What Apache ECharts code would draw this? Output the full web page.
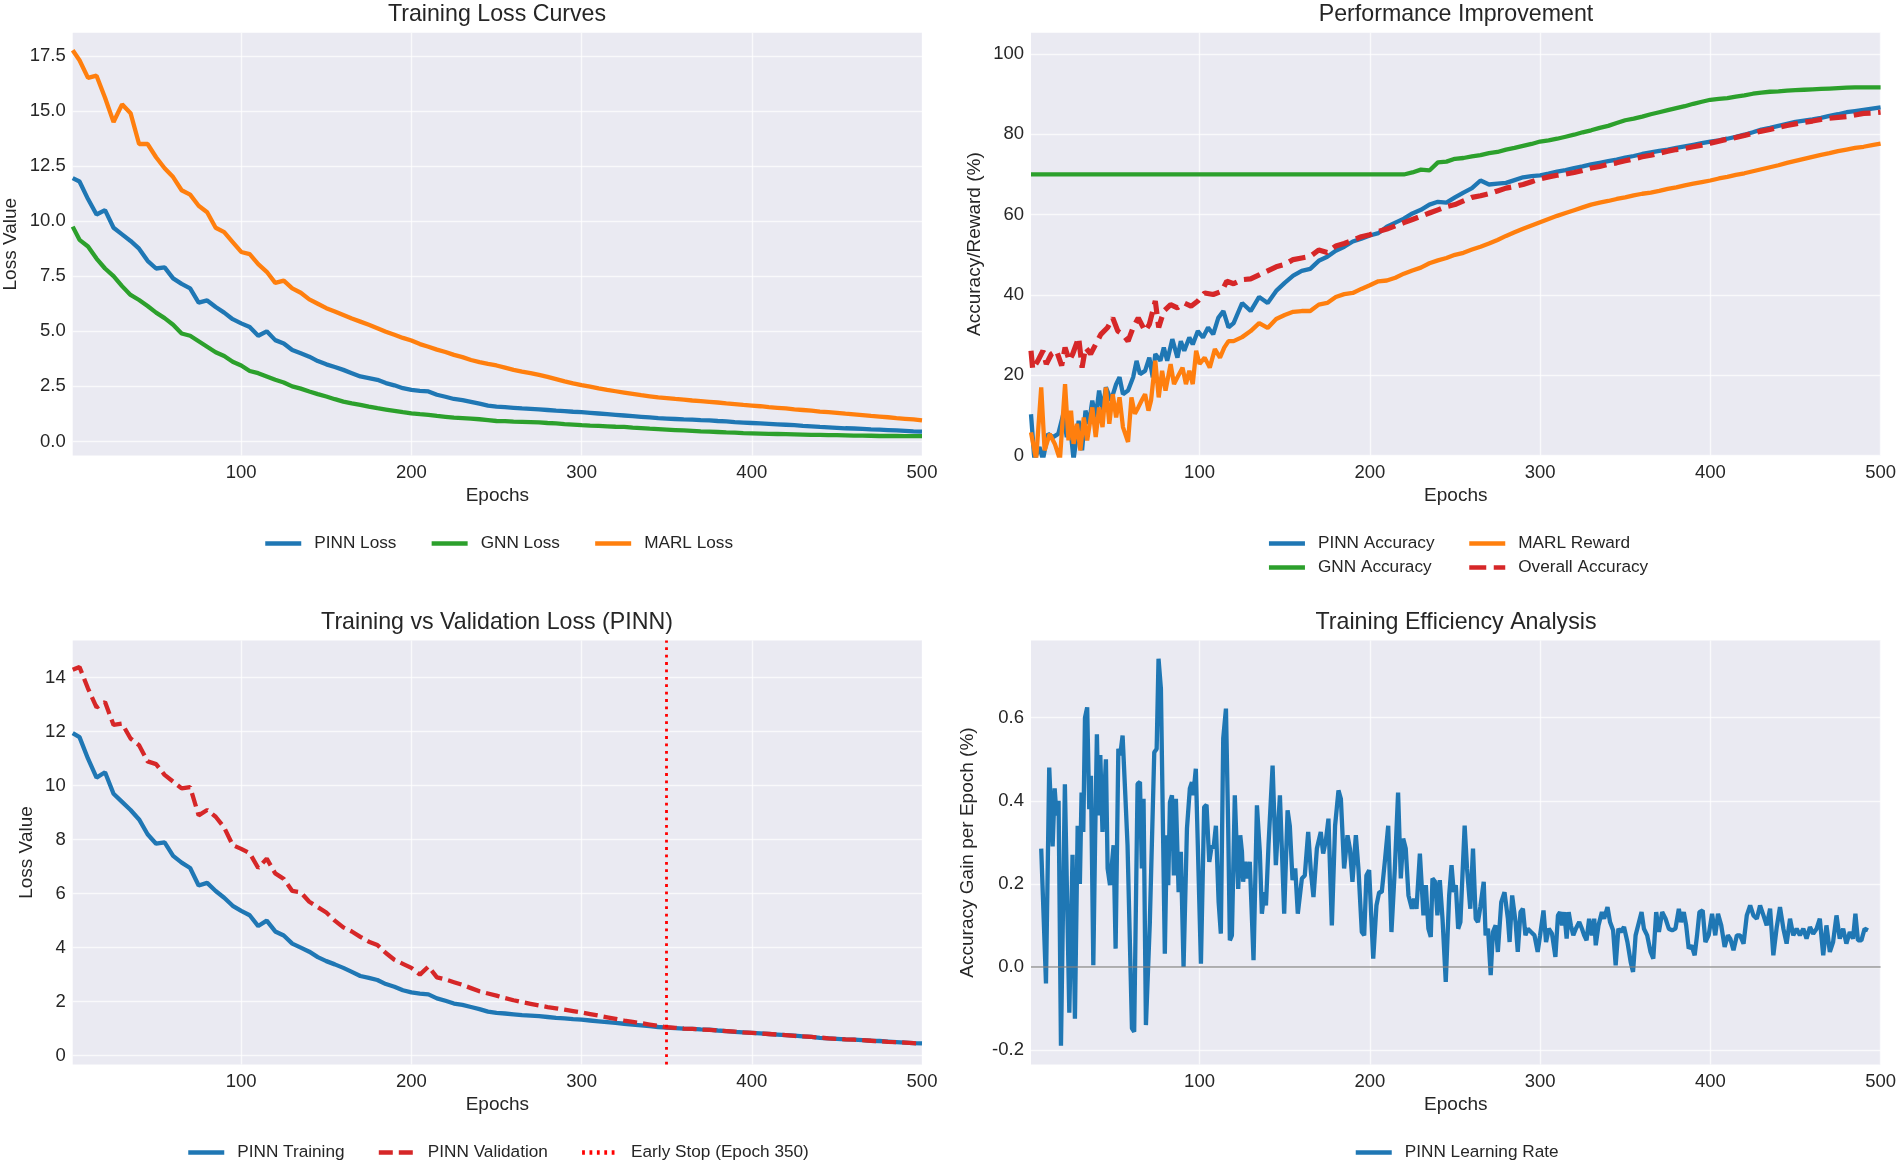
<!DOCTYPE html>
<html lang="en">
<head>
<meta charset="utf-8">
<title>Training curves</title>
<script src="https://cdn.jsdelivr.net/npm/echarts@6.0.0/dist/echarts.min.js"></script>
<style>
  html, body { margin: 0; padding: 0; background: #fff; }
  #main { width: 1900px; height: 1163px; }
</style>
</head>
<body>
<div id="main"></div>
<script>
var epochs = [1,5,10,15,20,25,30,35,40,45,
  50,55,60,65,70,75,80,85,90,95,
  100,105,110,115,120,125,130,135,140,145,
  150,155,160,165,170,175,180,185,190,195,
  200,205,210,215,220,225,230,235,240,245,
  250,255,260,265,270,275,280,285,290,295,
  300,305,310,315,320,325,330,335,340,345,
  350,355,360,365,370,375,380,385,390,395,
  400,405,410,415,420,425,430,435,440,445,
  450,455,460,465,470,475,480,485,490,495,
  500];

// panel 1: training loss
var pinnLoss = [11.95,11.8,11.0,10.3,10.5,9.7,9.4,9.1,8.75,8.2,
  7.85,7.9,7.4,7.15,6.95,6.3,6.4,6.1,5.85,5.55,
  5.36,5.2,4.8,5.0,4.6,4.45,4.15,4.0,3.85,3.65,
  3.5,3.38,3.25,3.1,2.95,2.88,2.8,2.65,2.55,2.42,
  2.34,2.3,2.27,2.12,2.03,1.93,1.88,1.8,1.72,1.63,
  1.58,1.56,1.53,1.5,1.48,1.46,1.43,1.4,1.38,1.35,
  1.33,1.3,1.27,1.24,1.21,1.18,1.15,1.12,1.09,1.06,
  1.04,1.02,1.0,0.99,0.97,0.96,0.93,0.91,0.88,0.86,
  0.84,0.82,0.8,0.78,0.76,0.74,0.71,0.69,0.66,0.64,
  0.62,0.6,0.59,0.57,0.55,0.54,0.52,0.5,0.48,0.46,
  0.45];
var gnnLoss = [9.75,9.15,8.85,8.3,7.85,7.5,7.05,6.65,6.42,6.15,
  5.85,5.6,5.3,4.9,4.8,4.55,4.3,4.05,3.88,3.62,
  3.45,3.2,3.1,2.95,2.8,2.68,2.5,2.4,2.27,2.15,
  2.04,1.92,1.81,1.73,1.66,1.58,1.51,1.45,1.39,1.33,
  1.28,1.24,1.21,1.16,1.12,1.08,1.06,1.04,1.01,0.97,
  0.93,0.92,0.9,0.89,0.88,0.87,0.84,0.82,0.79,0.77,
  0.74,0.72,0.71,0.69,0.67,0.66,0.63,0.61,0.58,0.56,
  0.54,0.52,0.5,0.48,0.46,0.45,0.43,0.41,0.4,0.38,
  0.37,0.36,0.35,0.34,0.33,0.32,0.31,0.3,0.3,0.29,
  0.29,0.28,0.27,0.27,0.26,0.25,0.25,0.25,0.24,0.24,
  0.24];
var marlLoss = [17.75,17.3,16.5,16.6,15.6,14.5,15.3,14.9,13.5,13.5,
  12.9,12.4,12.0,11.4,11.2,10.7,10.4,9.7,9.5,9.05,
  8.6,8.5,8.05,7.7,7.2,7.3,6.95,6.75,6.45,6.25,
  6.05,5.9,5.74,5.58,5.44,5.3,5.14,4.98,4.84,4.7,
  4.58,4.42,4.3,4.17,4.06,3.93,3.83,3.7,3.6,3.52,
  3.45,3.35,3.25,3.17,3.1,3.02,2.93,2.83,2.73,2.64,
  2.56,2.49,2.41,2.34,2.28,2.22,2.16,2.1,2.05,2.0,
  1.97,1.93,1.9,1.86,1.83,1.8,1.77,1.73,1.7,1.66,
  1.63,1.6,1.56,1.53,1.5,1.46,1.43,1.4,1.36,1.33,
  1.3,1.26,1.23,1.2,1.16,1.13,1.1,1.06,1.03,1.0,
  0.96];

// panel 2: performance. early noisy stretch as [epoch, value], then every 5 from epoch 120
var pinnAccEarly = [[1,10.3],[3,-1],[6,2.1],[8,-1],[11,5.4],[14,4.6],[17,5.4],[20,10.4],[22,4.6],[23.5,9.5],
  [26,-1],[29,8.7],[31,1.3],[33,11.2],[35,7.9],[37,13.7],[39,9.5],[41,16.2],[43,11.2],[45,17],
  [48,13.7],[51,17.8],[53,19.5],[55,15.3],[58,16.2],[61,19.5],[63,23.6],[65,20.3],[68,21.1],[70.5,24.4],
  [72.5,19.5],[74,25.3],[77,23.6],[79,26.9],[81,23.6],[84,29],[87,24.4],[89,28.5],[91,26.1],[94,29.4],
  [96,27.7],[99,31],[102,29.4],[105,31.9],[108,30.2],[111,34.3],[114,36],[117,31.9]];
var marlRewardEarly = [[1,5.8],[4,-1],[7,17],[9,1.3],[12,5.4],[15,2.9],[18,-1],[21,17.8],[23,3.8],[24.5,11.2],
  [26,2.9],[28,7.9],[30,1.3],[32,9.5],[34,3.8],[37,12],[39,4.6],[41,12],[43,7.1],[45,17],
  [47,7.9],[49,15.3],[51,9.5],[53,14.5],[55,7.1],[58,3.4],[60,14.5],[62,10.4],[64,12],[66,13.7],
  [68,15.3],[70,11.2],[71.5,13.7],[74,23.6],[76,14.5],[78,21.1],[80,16.2],[83,22.8],[85,17.8],[87,19.5],
  [90,21.9],[92,17.8],[94,21.1],[96,17.8],[98,26.1],[100,22.8],[103,24.4],[106,21.9],[109,26.5],[112,24.4],
  [114.5,26.9],[117,28.5]];
var overallAccEarly = [[1,26.1],[2,21.5],[5,23.6],[8,26.1],[10,22.8],[13,25.3],[16,26.1],[19,22.4],[21,26.9],[23.5,23.6],
  [25.5,25.3],[29,29.4],[31,21.9],[33,26.9],[36,25.3],[39,27.7],[42,30.2],[46,31.9],[49,34.3],[52,31],
  [55,30.2],[58,28.5],[61,31.9],[64,34.3],[68,31],[70.5,32.7],[74,38.5],[76,31.9],[79,36],[83,37.6],
  [87,36.8],[91,38],[95,37.2],[99,38.5],[103,40.5],[108,40.1],[113,40.9],[116,43.4]];
var gnnAccEarly = [[1,70]];

var accEpochs = [120,125,130,135,140,145,
  150,155,160,165,170,175,180,185,190,195,
  200,205,210,215,220,225,230,235,240,245,
  250,255,260,265,270,275,280,285,290,295,
  300,305,310,315,320,325,330,335,340,345,
  350,355,360,365,370,375,380,385,390,395,
  400,405,410,415,420,425,430,435,440,445,
  450,455,460,465,470,475,480,485,490,495,
  500];
var pinnAcc = [33,38,36,39.5,38,41,
  43,44.8,46,46.5,48.5,49.5,51,52,53.3,54,
  54.8,55.4,57,58,59,60.3,61.2,62.5,63.2,63,
  64.3,65.5,66.6,68.5,67.5,67.7,67.9,68.6,69.3,69.6,
  69.8,70.2,70.7,71.1,71.6,72.0,72.5,72.9,73.3,73.7,
  74.2,74.6,75.1,75.5,75.9,76.2,76.6,77.0,77.4,77.8,
  78.2,78.5,78.9,79.4,79.9,80.5,81.2,81.6,82.1,82.6,
  83.1,83.4,83.7,84.1,84.6,85.0,85.5,85.8,86.1,86.4,
  86.7];
var gnnAcc = [70,70,70,70,70,70,
  70,70,70,70,70,70,70,70,70,70,
  70,70,70,70,70,70.5,71.2,71.0,73.0,73.2,
  73.9,74.1,74.5,74.8,75.3,75.6,76.2,76.6,77.1,77.6,
  78.2,78.5,78.9,79.4,79.9,80.5,81.0,81.6,82.1,82.8,
  83.5,83.9,84.4,85.0,85.5,86.0,86.5,87.0,87.6,88.1,
  88.6,88.8,89.0,89.4,89.7,90.1,90.4,90.6,90.7,90.9,
  91.0,91.1,91.2,91.3,91.4,91.5,91.6,91.7,91.7,91.7,
  91.7];
var marlReward = [28.5,29.5,31,33,31.8,34,
  35,35.8,36,36,37.6,38,39.5,40.2,40.5,41.5,
  42.4,43.4,43.6,44.3,45.3,46.1,46.8,47.9,48.6,49.2,
  50,50.5,51.3,52,52.8,53.7,54.7,55.6,56.5,57.3,
  58.1,58.9,59.7,60.4,61.1,61.8,62.5,63.0,63.4,63.9,
  64.3,64.8,65.2,65.5,65.9,66.4,66.8,67.3,67.7,68.1,
  68.5,69.0,69.4,69.9,70.3,70.8,71.3,71.8,72.3,72.9,
  73.4,73.9,74.4,74.9,75.3,75.8,76.2,76.6,76.9,77.3,
  77.7];
var overallAcc = [42.8,43.8,44,45,46,47,
  47.6,48.8,49.2,49.6,51.2,50.6,52.2,52.8,53.6,54.5,
  55,55.8,56.4,57.2,58,58.8,59.6,60.4,61.2,62,
  62.5,63.4,64.3,64.7,65.2,65.9,66.6,67.0,67.5,68.2,
  68.9,69.4,69.8,70.1,70.5,71.0,71.6,72.0,72.5,72.9,
  73.4,73.9,74.4,74.8,75.3,75.8,76.2,76.5,76.9,77.3,
  77.8,78.3,78.8,79.2,79.7,80.3,80.8,81.2,81.7,82.2,
  82.6,83.0,83.3,83.7,84.0,84.2,84.4,84.8,85.2,85.3,
  85.5];

// panel 3: training vs validation (training = pinnLoss)
var pinnVal = [14.3,14.4,13.6,12.9,13.1,12.25,12.3,11.75,11.5,10.9,
  10.8,10.4,10.15,9.9,9.95,8.9,9.1,8.85,8.45,7.8,
  7.66,7.5,6.95,7.3,6.75,6.55,6.1,6.05,5.7,5.5,
  5.3,5.0,4.75,4.6,4.4,4.22,4.1,3.8,3.55,3.4,
  3.25,3.0,3.3,2.9,2.82,2.72,2.62,2.5,2.38,2.3,
  2.22,2.13,2.05,1.98,1.92,1.86,1.8,1.75,1.7,1.65,
  1.6,1.54,1.48,1.42,1.36,1.3,1.25,1.2,1.15,1.1,
  1.05,1.03,1.0,0.99,0.97,0.95,0.93,0.91,0.89,0.86,
  0.84,0.82,0.8,0.78,0.76,0.73,0.71,0.69,0.67,0.64,
  0.62,0.6,0.59,0.57,0.55,0.53,0.51,0.5,0.48,0.46,
  0.44];
var earlyStopEpoch = 350;

// panel 4: accuracy gain per epoch, [epoch, value]
var lrPoints = [[7,0.285],[9.8,-0.04],[11.7,0.48],[13.7,0.29],[14.9,0.43],[16,0.365],[17.2,0.40],[18.6,-0.19],
  [20.9,0.44],[23.5,-0.11],[25.4,0.27],[26.8,-0.125],[28.4,0.34],[29.7,0.2],[30.7,0.42],[31.7,0.325],
  [32.7,0.6],[34,0.625],[35.2,0.38],[36.2,0.46],[37.6,0.004],[38.7,0.317],[39.7,0.56],[40.7,0.365],
  [41.7,0.51],[43,0.325],[45,0.5],[46,0.237],[47.4,0.197],[49.5,0.293],[50.7,0.044],[52.3,0.525],
  [53.4,0.51],[54.8,0.557],[56.4,0.413],[57.7,0.293],[60.3,-0.148],[61.6,-0.156],[63.6,0.441],[65,0.445],
  [66.1,0.237],[67.1,0.405],[68.5,-0.14],[70.8,0.108],[73.4,0.517],[74.8,0.525],[75.9,0.742],[77.3,0.67],
  [79.6,0.032],[80.8,0.317],[81.6,0.197],[82.6,0.397],[83.8,0.413],[84.9,0.22],[86.1,0.405],[87.7,0.18],
  [89,0.277],[90.6,0.0],[92.6,0.333],[94.3,0.43],[95.5,0.445],[96.3,0.413],[97.8,0.477],[100.8,0.008],
  [102.7,0.385],[104.1,0.39],[105.7,0.253],[107.2,0.293],[108.2,0.285],[109.6,0.34],[111.2,0.156],[112.5,0.08],
  [113.9,0.55],[115.5,0.622],[116.8,0.34],[117.8,0.064],[119,0.076],[120.7,0.413],[122.7,0.188],[123.9,0.317],
  [124.9,0.277],[125.6,0.205],[126.8,0.253],[128.2,0.213],[129.5,0.253],[131.7,0.016],[133.7,0.389],[135.4,0.277],
  [136.6,0.128],[138,0.18],[139,0.148],[140.5,0.293],[142.9,0.485],[144.8,0.245],[147.2,0.413],[149.7,0.128],
  [151.7,0.377],[153,0.34],[154.6,0.209],[156.2,0.237],[157.7,0.128],[160.1,0.213],[161.8,0.22],[163.8,0.325],
  [165.4,0.229],[166.9,0.168],[168.9,0.285],[171.2,0.325],[172.6,0.273],[174.2,0.305],[175.7,0.357],[177.7,0.1],
  [179.6,0.34],[181.6,0.425],[183,0.405],[184.9,0.237],[186.9,0.317],[188.3,0.285],[189.8,0.205],[191.8,0.317],
  [193.3,0.237],[195.3,0.084],[196.7,0.076],[198,0.22],[199.6,0.233],[202,0.02],[203.9,0.148],[205.5,0.18],
  [207,0.18],[208.8,0.253],[210.8,0.34],[212.7,0.084],[214.7,0.237],[216.6,0.42],[218.2,0.213],[219.6,0.309],
  [221.1,0.285],[222.7,0.172],[224.7,0.14],[226,0.164],[227.4,0.14],[229.4,0.273],[231.5,0.124],[232.9,0.197],
  [234.4,0.092],[235.8,0.072],[236.8,0.213],[238.4,0.205],[239.7,0.124],[241.1,0.209],[242.7,0.116],[244.6,-0.036],
  [246.6,0.172],[248,0.245],[249.3,0.18],[250.5,0.197],[251.9,0.092],[253.2,0.108],[255.7,0.34],[257.1,0.237],
  [259,0.14],[260.6,0.285],[262.2,0.116],[263.5,0.108],[264.9,0.144],[266.9,0.205],[268,0.076],[269.4,0.092],
  [271,-0.02],[272.3,0.084],[273.9,0.1],[275.2,0.036],[277.2,0.156],[279.1,0.18],[281.1,0.116],[282.1,0.06],
  [283.6,0.172],[285.6,0.108],[286.9,0.036],[288.5,0.132],[289.9,0.14],[291.4,0.076],[292.8,0.092],[294.7,0.084],
  [296.7,0.076],[298.6,0.036],[300,0.076],[302,0.136],[303.5,0.06],[305.1,0.092],[307,0.08],[309,0.024],
  [310.5,0.124],[311.7,0.132],[312.9,0.1],[314.2,0.132],[315.6,0.068],[316.8,0.132],[318.1,0.1],[319.5,0.076],
  [321,0.092],[323,0.108],[324.6,0.092],[325.9,0.076],[327.3,0.064],[328.8,0.116],[330.4,0.076],[331.8,0.116],
  [332.7,0.052],[334.3,0.1],[336.3,0.132],[337.6,0.116],[339.6,0.144],[341.1,0.108],[342.9,0.088],[344.4,0.004],
  [346,0.092],[347.4,0.084],[349.3,0.096],[351.3,0.06],[353.2,0.012],[354.6,-0.012],[356.1,0.076],[358.1,0.108],
  [359.6,0.132],[361,0.092],[362.9,0.076],[364.9,0.036],[366.5,0.02],[368.2,0.132],[369.8,0.084],[371.7,0.132],
  [373.7,0.116],[375.6,0.092],[377.6,0.088],[379.5,0.092],[381.5,0.14],[382.8,0.108],[384.4,0.132],[385.8,0.1],
  [387.3,0.044],[388.9,0.052],[390.8,0.028],[392.2,0.076],[393.6,0.132],[395.5,0.136],[397.1,0.06],[399,0.076],
  [401,0.128],[402.9,0.076],[404.5,0.128],[406.4,0.1],[408.4,0.048],[410.3,0.076],[411.7,0.068],[413.6,0.04],
  [415.6,0.076],[417.5,0.076],[419.5,0.056],[421.4,0.124],[423.4,0.148],[425.3,0.124],[427.3,0.116],[429.2,0.148],
  [431.2,0.124],[433.1,0.1],[435.1,0.14],[437,0.028],[439,0.096],[440.9,0.144],[442.9,0.092],[444.8,0.056],
  [446.8,0.116],[448.7,0.076],[450.7,0.092],[452.6,0.076],[454.6,0.092],[456.5,0.068],[458.5,0.096],[460.4,0.08],
  [462.4,0.092],[464.3,0.116],[466.3,0.028],[468.2,0.1],[470.2,0.036],[472.1,0.06],[474.1,0.124],[476,0.068],
  [478,0.092],[479.9,0.056],[481.9,0.084],[483.8,0.068],[485.2,0.128],[486.7,0.064],[488.7,0.064],[490.6,0.092],
  [492.6,0.088]];

// tick labels
var epochTicks = [100, 200, 300, 400, 500];
var lossTicks = [0, 2.5, 5, 7.5, 10, 12.5, 15, 17.5];
var accTicks = [0, 20, 40, 60, 80, 100];
var valTicks = [0, 2, 4, 6, 8, 10, 12, 14];
var gainTicks = [-0.2, 0, 0.2, 0.4, 0.6];

var BLUE = '#1f77b4', ORANGE = '#ff7f0e', GREEN = '#2ca02c', RED = '#d62728';
var TXT = '#262626';
var FONT = 'Liberation Sans, Arial, sans-serif';
var LW = 4.3;

function pairs(xs, ys) {
  return xs.map(function (x, i) { return [x, ys[i]]; });
}

function xAx(g) {
  return {
    type: 'value', gridIndex: g, min: 1, max: 500,
    name: 'Epochs', nameLocation: 'middle', nameGap: 31,
    nameTextStyle: { fontSize: 19, color: TXT, fontFamily: FONT },
    axisLine: { show: false },
    axisTick: { show: false, customValues: epochTicks },
    axisLabel: { customValues: epochTicks, fontSize: 18.5, color: TXT, fontFamily: FONT, margin: 8 },
    splitLine: { show: true, lineStyle: { color: 'rgba(255,255,255,0.7)', width: 1.4 } }
  };
}

function yAx(g, name, min, max, ticks, gap, fmt) {
  return {
    type: 'value', gridIndex: g, min: min, max: max,
    name: name, nameLocation: 'middle', nameGap: gap,
    nameTextStyle: { fontSize: 19, color: TXT, fontFamily: FONT },
    axisLine: { show: false },
    axisTick: { show: false, customValues: ticks },
    axisLabel: { customValues: ticks, fontSize: 18.5, color: TXT, fontFamily: FONT, margin: 7, formatter: fmt },
    splitLine: { show: true, lineStyle: { color: 'rgba(255,255,255,0.7)', width: 1.4 } }
  };
}

function line(name, g, data, color, extra) {
  var s = {
    name: name, type: 'line', xAxisIndex: g, yAxisIndex: g,
    data: data, color: color, symbol: 'none', showSymbol: false,
    lineStyle: { color: color, width: LW }, silent: true
  };
  for (var k in extra) s[k] = extra[k];
  return s;
}

function legend(names, left, top, gap, vertical) {
  return {
    data: names, left: left, top: top, padding: 0,
    orient: vertical ? 'vertical' : 'horizontal',
    itemWidth: 36, itemHeight: 14, itemGap: gap,
    selectedMode: false,
    itemStyle: { opacity: 0 },
    lineStyle: { width: 4.5 },
    textStyle: { fontSize: 17.2, color: TXT, fontFamily: FONT, padding: [0, 0, 0, 8] }
  };
}

var fix1 = function (v) { return v.toFixed(1); };
var fix0 = function (v) { return String(Math.round(v)); };

function gridAt(l, t, w, h) {
  return { show: true, backgroundColor: '#eaeaf2', borderWidth: 0, left: l, top: t, width: w, height: h };
}

var titleStyle = { fontSize: 23.2, fontWeight: 'normal', color: TXT, fontFamily: FONT };

var chart = echarts.init(document.getElementById('main'), null, { renderer: 'canvas' });

chart.setOption({
  backgroundColor: '#ffffff',
  animation: false,
  textStyle: { fontFamily: FONT },
  title: [
    { text: 'Training Loss Curves', left: 497, top: 3, padding: 0, textAlign: 'center', textStyle: titleStyle },
    { text: 'Performance Improvement', left: 1456, top: 3, padding: 0, textAlign: 'center', textStyle: titleStyle },
    { text: 'Training vs Validation Loss (PINN)', left: 497, top: 611, padding: 0, textAlign: 'center', textStyle: titleStyle },
    { text: 'Training Efficiency Analysis', left: 1456, top: 611, padding: 0, textAlign: 'center', textStyle: titleStyle }
  ],
  grid: [
    gridAt(72.7, 32.7, 849.3, 422.9),
    gridAt(1031, 32.7, 849.6, 422.9),
    gridAt(72.7, 640.5, 849.3, 424),
    gridAt(1031, 640.5, 849.6, 424)
  ],
  xAxis: [xAx(0), xAx(1), xAx(2), xAx(3)],
  yAxis: [
    yAx(0, 'Loss Value', -0.64, 18.55, lossTicks, 52, fix1),
    yAx(1, 'Accuracy/Reward (%)', 0, 105.3, accTicks, 47, fix0),
    yAx(2, 'Loss Value', -0.33, 15.38, valTicks, 36.5, fix0),
    yAx(3, 'Accuracy Gain per Epoch (%)', -0.235, 0.786, gainTicks, 53.5, fix1)
  ],
  legend: [
    legend(['PINN Loss', 'GNN Loss', 'MARL Loss'], 263, 535, 33),
    legend(['PINN Accuracy', 'GNN Accuracy'], 1266.7, 535, 7, true),
    legend(['MARL Reward', 'Overall Accuracy'], 1467, 535, 7, true),
    legend(['PINN Training', 'PINN Validation', 'Early Stop (Epoch 350)'], 186, 1144, 32),
    legend(['PINN Learning Rate'], 1353.5, 1144, 32)
  ],
  series: [
    line('PINN Loss', 0, pairs(epochs, pinnLoss), BLUE),
    line('GNN Loss', 0, pairs(epochs, gnnLoss), GREEN),
    line('MARL Loss', 0, pairs(epochs, marlLoss), ORANGE),

    line('PINN Accuracy', 1, pinnAccEarly.concat(pairs(accEpochs, pinnAcc)), BLUE),
    line('GNN Accuracy', 1, gnnAccEarly.concat(pairs(accEpochs, gnnAcc)), GREEN),
    line('MARL Reward', 1, marlRewardEarly.concat(pairs(accEpochs, marlReward)), ORANGE),
    line('Overall Accuracy', 1, overallAccEarly.concat(pairs(accEpochs, overallAcc)), RED,
      { lineStyle: { color: RED, width: 5.2, type: [17, 7.5] } }),

    line('PINN Training', 2, pairs(epochs, pinnLoss), BLUE),
    line('PINN Validation', 2, pairs(epochs, pinnVal), RED,
      { lineStyle: { color: RED, width: LW, type: [14, 6] } }),
    line('Early Stop (Epoch 350)', 2, [], '#ff0000', {
      lineStyle: { color: '#ff0000', width: 2.8, type: [2.8, 4.6] },
      markLine: {
        silent: true, symbol: 'none', label: { show: false },
        lineStyle: { color: '#ff0000', width: 2.8, type: [2.8, 4.6] },
        data: [{ xAxis: earlyStopEpoch }]
      }
    }),

    line('PINN Learning Rate', 3, lrPoints, BLUE, {
      markLine: {
        silent: true, symbol: 'none', label: { show: false },
        lineStyle: { color: 'rgba(128,128,128,0.6)', width: 2.2, type: 'solid' },
        data: [{ yAxis: 0 }]
      }
    })
  ]
});
</script>
</body>
</html>
